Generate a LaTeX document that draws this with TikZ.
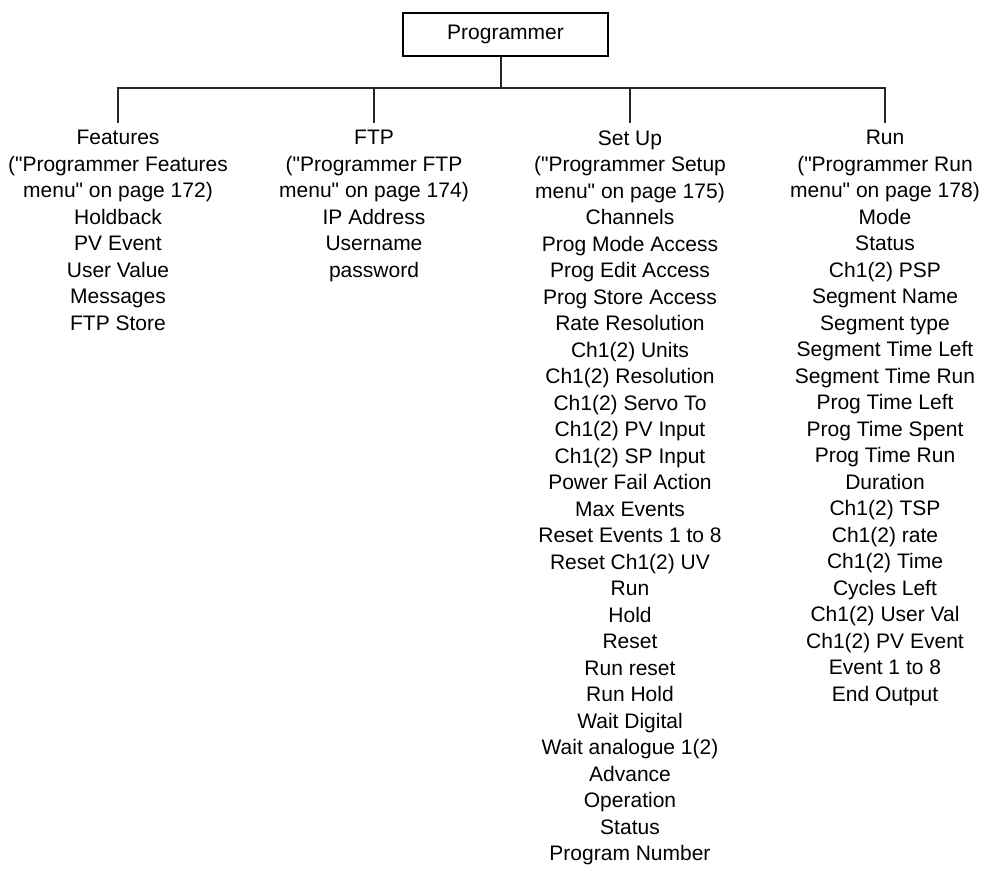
\documentclass[tikz,border=0pt]{standalone}
\usepackage{fontspec}
\setmainfont{Liberation Sans}[Ligatures=TeXOff]
\begin{document}
\begin{tikzpicture}[x=0.5pt,y=-0.5pt,
  col/.style={anchor=north,align=center,inner xsep=0pt,inner ysep=3.5pt,
    font=\fontsize{10.5}{13.25}\selectfont},
  topbox/.style={draw,line width=1.4pt,minimum width=102.5pt,minimum height=21.5pt,
    inner sep=0pt,font=\fontsize{10.5}{13}\selectfont},
  conn/.style={line width=0.65pt,draw=black!85}]
\useasboundingbox (0,0) rectangle (984,871);
\node[topbox] (top) at (505.5,34.5) {Programmer};
\coordinate (bus) at (501,88);
\node[col] (feat) at (118,123) {Features\\("Programmer Features\\menu" on page 172)\\Holdback\\PV Event\\User Value\\Messages\\FTP Store};
\node[col] (ftp) at (374,123) {FTP\\("Programmer FTP\\menu" on page 174)\\IP Address\\Username\\password};
\node[col] (setup) at (630,123) {Set Up\\("Programmer Setup\\menu" on page 175)\\Channels\\Prog Mode Access\\Prog Edit Access\\Prog Store Access\\Rate Resolution\\Ch1(2) Units\\Ch1(2) Resolution\\Ch1(2) Servo To\\Ch1(2) PV Input\\Ch1(2) SP Input\\Power Fail Action\\Max Events\\Reset Events 1 to 8\\Reset Ch1(2) UV\\Run\\Hold\\Reset\\Run reset\\Run Hold\\Wait Digital\\Wait analogue 1(2)\\Advance\\Operation\\Status\\Program Number};
\node[col] (run) at (885,123) {Run\\("Programmer Run\\menu" on page 178)\\Mode\\Status\\Ch1(2) PSP\\Segment Name\\Segment type\\Segment Time Left\\Segment Time Run\\Prog Time Left\\Prog Time Spent\\Prog Time Run\\Duration\\Ch1(2) TSP\\Ch1(2) rate\\Ch1(2) Time\\Cycles Left\\Ch1(2) User Val\\Ch1(2) PV Event\\Event 1 to 8\\End Output};
\draw[conn] (top.south -| bus) -- (bus);
\draw[conn] (feat.north) -- (feat.north |- bus) -- (run.north |- bus) -- (run.north);
\draw[conn] (ftp.north) -- (ftp.north |- bus);
\draw[conn] (setup.north) -- (setup.north |- bus);
\end{tikzpicture}
\end{document}
